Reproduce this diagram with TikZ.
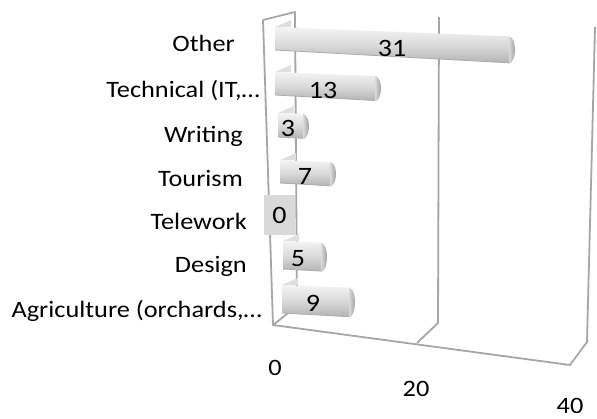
\documentclass[tikz,border=0pt]{standalone}
\usepackage{fontspec}
\setmainfont{Carlito}[FakeStretch=1.12]
\definecolor{wallline}{HTML}{A6A6A6}
\definecolor{barlight}{HTML}{F4F4F4}
\definecolor{barmid}{HTML}{DADADA}
\definecolor{bardark}{HTML}{B4B4B4}
\definecolor{capcol}{HTML}{8E8E8E}
\definecolor{lblbox}{HTML}{D9D9D9}
\begin{document}
\begin{tikzpicture}[x=1pt,y=-1pt,
  wall/.style={draw=wallline, line width=1.8pt, line join=round},
  txt/.style={inner sep=0pt, font=\fontsize{23.5}{28}\selectfont},
  cat/.style={txt, anchor=base east},
  val/.style={txt, anchor=center},
  dlbl/.style={val, font=\fontsize{25}{30}\selectfont}]
\useasboundingbox (0,0) rectangle (597,418);
\fill[white] (0,0) rectangle (597,418);

% walls, floor and gridlines
\draw[wall] (273,325) -- (263,20) -- (295,12) -- (297,306) -- (273,325) -- (570,365) -- (587,342) -- (595,27);
\draw[wall] (439,17) -- (438,323) -- (417,343);

% bars
\foreach \xl/\yt/\xr/\yb in {275/27/510/50, 275/72/376/95, 278/113/304/137, 280/160/331/183, 283/241/322/269, 282/285/350/313}{
  \pgfmathsetmacro{\ytr}{\yt+0.04*(\xr-\xl)}
  \pgfmathsetmacro{\ybr}{\yb+0.055*(\xr-\xl)}
  \fill[gray!25] (\xl,\yt) -- (\xl+16,\yt-7) -- (\xl+16,\yt) -- cycle;
  \shade[top color=barlight, bottom color=bardark, middle color=barmid]
    (\xl,\yt) -- (\xr,\ytr) -- (\xr,\ybr) -- (\xl,\yb) -- cycle;
  \draw[gray!65, line width=0.8pt] (\xl,\yb) -- (\xr,\ybr);
  \shade[left color=barmid, right color=capcol]
    (\xr-1,\ytr) .. controls (\xr+7,\ytr+1) and (\xr+7,\ybr-1) .. (\xr-1,\ybr+1) -- cycle;
}

% category labels
\node[cat] (c1) at (235,51.7) {Other};
\node[cat] (c2) at (260,97) {Technical (IT,…};
\node[cat] (c3) at (243,142.7) {Writing};
\node[cat] (c4) at (243,186.7) {Tourism};
\node[cat] (c5) at (247,229) {Telework};
\node[cat] (c6) at (247,272.7) {Design};
\node[cat] (c7) at (262,317.7) {Agriculture (orchards,…};

% value labels
\node[dlbl] (v1) at (392,48.5) {31};
\node[dlbl] (v2) at (323,90) {13};
\node[dlbl] (v3) at (288,128) {3};
\node[dlbl] (v4) at (305,176) {7};
\node[dlbl, fill=lblbox, minimum width=31pt, minimum height=40pt] (v5) at (279.5,215) {0};
\node[dlbl] (v6) at (298,259) {5};
\node[dlbl] (v7) at (313,303.5) {9};

% axis labels
\node[val] (a0) at (275,368) {0};
\node[val] (a20) at (416,389) {20};
\node[val] (a40) at (570,405.5) {40};
\end{tikzpicture}
\end{document}
